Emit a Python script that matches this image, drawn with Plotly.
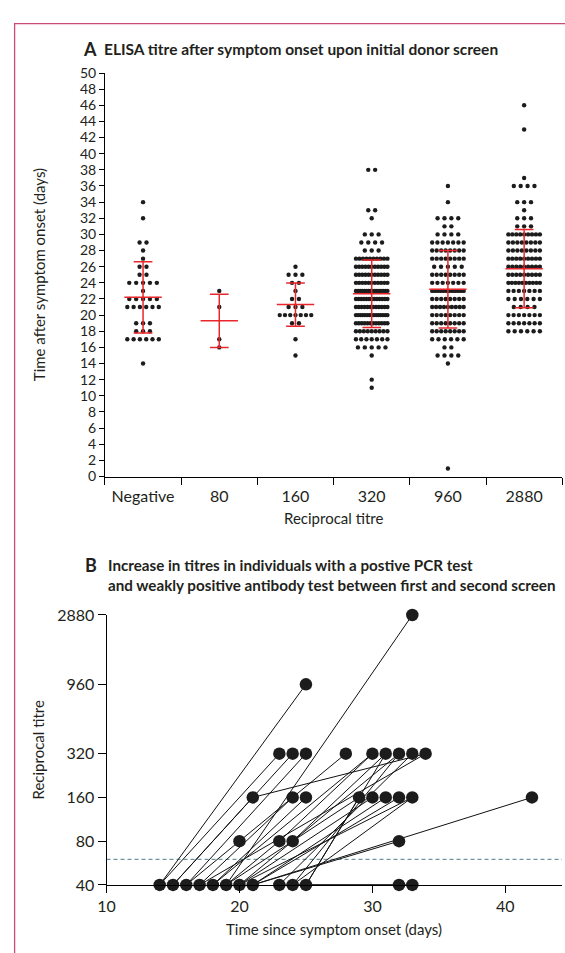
import numpy as np
import plotly.graph_objects as go

W, H = 565, 953


def px(x):
    return x / W


def py(y):
    return 1 - y / H


# ---------------- Panel A data (day after symptom onset, number of donors) ----------------
categories = ["Negative", "80", "160", "320", "960", "2880"]

neg_days = [34, 32, 29, 28, 27, 26, 25, 24, 23, 22, 21, 19, 18, 17, 14]
neg_counts = [1, 1, 2, 1, 1, 2, 2, 5, 1, 5, 6, 3, 3, 6, 1]

t80_days = [23, 21, 17, 16]
t80_counts = [1, 1, 1, 1]

t160_days = [26, 25, 24, 23, 22, 21, 20, 19, 17, 15]
t160_counts = [1, 3, 2, 1, 2, 3, 7, 2, 1, 1]

t320_days = [38, 33, 32, 30, 29, 28, 27, 26, 25, 24, 23, 22, 21, 20, 19, 18, 17, 16, 15, 12, 11]
t320_counts = [2, 2, 1, 3, 4, 3, 10, 11, 11, 11, 16, 13, 12, 15, 12, 9, 7, 5, 1, 1, 1]

t960_days = [36, 34, 32, 31, 30, 29, 28, 27, 26, 25, 24, 23, 22, 21, 20, 19, 18, 17, 16, 15, 14, 1]
t960_counts = [1, 1, 4, 2, 4, 7, 8, 8, 5, 8, 7, 12, 8, 9, 8, 8, 8, 6, 2, 4, 1, 1]

t2880_days = [46, 43, 37, 36, 34, 33, 32, 31, 30, 29, 28, 27, 26, 25, 24, 23, 22, 21, 20, 19, 18]
t2880_counts = [1, 1, 1, 4, 3, 1, 3, 3, 9, 8, 8, 9, 9, 9, 10, 7, 6, 4, 7, 7, 6]

means = [22.2, 19.3, 21.3, 22.65, 23.2, 25.75]
sds = [4.42, 3.3, 2.67, 4.17, 4.8, 4.85]

# ---------------- Panel B data (first screen -> second screen) ----------------
b_day1 = [14, 14, 15, 15, 16, 19, 16, 20, 21, 17, 18, 19, 20, 23, 24, 24, 19, 20, 21,
          21, 20, 23, 24, 25, 21, 21, 17, 18, 24, 25, 23, 24]
b_titre1 = [40, 40, 40, 40, 40, 40, 40, 80, 160, 40, 40, 40, 40, 80, 80, 80, 40, 40, 40,
            40, 40, 40, 40, 40, 40, 40, 40, 40, 40, 40, 40, 40]
b_day2 = [25, 23, 24, 21, 25, 33, 20, 28, 34, 24, 25, 23, 24, 30, 31, 32, 29, 30, 31,
          32, 33, 33, 32, 29, 32, 42, 34, 30, 33, 31, 32, 33]
b_titre2 = [960, 320, 320, 160, 320, 2880, 80, 320, 320, 160, 160, 80, 80, 320, 320, 320, 160, 160, 160,
            160, 160, 320, 320, 160, 80, 160, 320, 320, 160, 320, 40, 40]
b_yticks = [40, 80, 160, 320, 960, 2880]
b_xticks = [10, 20, 30, 40]
cutoff = 60

FONT = "Lato, 'Open Sans', sans-serif"
TXT = "#231f20"
RED = "#e8262b"
DOT = "#1c1c1c"

# plot-area geometry (pixels)
A_LEFT, A_RIGHT, A_TOP, A_BOTTOM = 97.5, 562.2, 64.3, 476.0
B_LEFT, B_RIGHT, B_TOP, B_BOTTOM = 99.1, 562.0, 617.3, 892.7
CAT_PX = (A_RIGHT - A_LEFT) / len(categories)
B_XMAX = 10 + (B_RIGHT - B_LEFT) / 13.51

fig = go.Figure()

# ---- Panel A: scatter dot plot ----
all_days = [neg_days, t80_days, t160_days, t320_days, t960_days, t2880_days]
all_counts = [neg_counts, t80_counts, t160_counts, t320_counts, t960_counts, t2880_counts]
STEP_PX, SPAN_PX = 7.0, 32.0
xs, ys = [], []
for ci, (days, counts) in enumerate(zip(all_days, all_counts)):
    for d, n in zip(days, counts):
        step = STEP_PX if n < 2 else min(STEP_PX, SPAN_PX / (n - 1))
        for i in range(n):
            xs.append(ci + (i - (n - 1) / 2) * step / CAT_PX)
            ys.append(d)
fig.add_trace(go.Scatter(x=xs, y=ys, mode="markers", xaxis="x", yaxis="y",
                         marker=dict(size=4.4, color=DOT, line=dict(width=0)),
                         hoverinfo="skip", showlegend=False, cliponaxis=False))

# mean +/- SD
MEAN_HW = 19.0 / CAT_PX
CAP_HW = 9.5 / CAT_PX
rx, ry = [], []
for ci, (m, s) in enumerate(zip(means, sds)):
    rx += [ci - MEAN_HW, ci + MEAN_HW, None]
    ry += [m, m, None]
    rx += [ci, ci, None]
    ry += [m - s, m + s, None]
    rx += [ci - CAP_HW, ci + CAP_HW, None, ci - CAP_HW, ci + CAP_HW, None]
    ry += [m + s, m + s, None, m - s, m - s, None]
fig.add_trace(go.Scatter(x=rx, y=ry, mode="lines", xaxis="x", yaxis="y",
                         line=dict(color=RED, width=1.5), hoverinfo="skip",
                         showlegend=False, cliponaxis=False))

# ---- Panel B ----
fig.add_trace(go.Scatter(x=[10, B_XMAX], y=[cutoff, cutoff], mode="lines", xaxis="x2", yaxis="y2",
                         line=dict(color="#4f7888", width=1, dash="4px,3px"),
                         hoverinfo="skip", showlegend=False))
lx, ly = [], []
for a, b, c, d in zip(b_day1, b_titre1, b_day2, b_titre2):
    lx += [a, c, None]
    ly += [b, d, None]
fig.add_trace(go.Scatter(x=lx, y=ly, mode="lines", xaxis="x2", yaxis="y2",
                         line=dict(color="#111111", width=1), hoverinfo="skip",
                         showlegend=False, cliponaxis=False))
pts = sorted(set(zip(b_day1, b_titre1)) | set(zip(b_day2, b_titre2)))
fig.add_trace(go.Scatter(x=[p[0] for p in pts], y=[p[1] for p in pts], mode="markers",
                         xaxis="x2", yaxis="y2",
                         marker=dict(size=12.5, color=DOT, line=dict(width=0)),
                         hoverinfo="skip", showlegend=False, cliponaxis=False))

axis_common = dict(showgrid=False, zeroline=False, showline=True, linecolor="black",
                   linewidth=1, tickcolor="black", tickwidth=1,
                   tickfont=dict(family=FONT, size=16, color=TXT), fixedrange=True)
small_tick = dict(axis_common, tickfont=dict(family=FONT, size=14, color=TXT))

fig.update_layout(
    width=W, height=H, margin=dict(l=0, r=0, t=0, b=0),
    paper_bgcolor="white", plot_bgcolor="white", showlegend=False,
    font=dict(family=FONT, color=TXT),
    xaxis=dict(domain=[px(A_LEFT), px(A_RIGHT)], range=[-0.5, 5.5], anchor="y",
               tickmode="array", tickvals=list(range(len(categories))), ticktext=categories,
               ticks="outside", ticklen=5, tickcolor="rgba(0,0,0,0)",
               minor=dict(tickmode="array", tickvals=[i - 0.5 for i in range(len(categories) + 1)],
                          ticks="outside", ticklen=7, tickcolor="black", tickwidth=1),
               **{k: v for k, v in axis_common.items() if k != "tickcolor"}),
    yaxis=dict(domain=[py(A_BOTTOM), py(A_TOP)], range=[0, 50], anchor="x",
               tickmode="linear", tick0=0, dtick=2, ticks="outside", ticklen=5,
               **small_tick),
    xaxis2=dict(domain=[px(B_LEFT), px(B_RIGHT)], range=[10, B_XMAX], anchor="y2",
                tickmode="array", tickvals=b_xticks, ticks="outside", ticklen=7,
                **axis_common),
    yaxis2=dict(domain=[py(B_BOTTOM), py(B_TOP)], type="log",
                range=[np.log10(40), np.log10(2880)], anchor="x2",
                tickmode="array", tickvals=b_yticks, ticktext=[str(v) for v in b_yticks],
                ticks="outside", ticklen=8, **axis_common),
)

ann = []


def add_text(text, x, y, size=14, xanchor="left", angle=0, bold=False):
    ann.append(dict(text=("<b>%s</b>" % text) if bold else text, x=px(x), y=py(y),
                    xref="paper", yref="paper", xanchor=xanchor, yanchor="middle",
                    showarrow=False, textangle=angle,
                    font=dict(family=FONT, size=size, color=TXT)))


add_text("A", 73.5, 39.5, size=18, bold=True)
add_text("ELISA titre after symptom onset upon initial donor screen", 95, 40, size=15.5, bold=True)
add_text("Time after symptom onset (days)", 30, 270, size=15, xanchor="center", angle=-90)
add_text("Reciprocal titre", (A_LEFT + A_RIGHT) / 2, 518, size=15, xanchor="center")
add_text("B", 75.5, 566, size=18, bold=True)
add_text("Increase in titres in individuals with a postive PCR test", 98.5, 566.5, size=15.2, bold=True)
add_text("and weakly positive antibody test between first and second screen", 98.5, 587, size=15.2, bold=True)
add_text("Reciprocal titre", 29, 755, size=15, xanchor="center", angle=-90)
add_text("Time since symptom onset (days)", (B_LEFT + B_RIGHT) / 2, 938, size=15, xanchor="center")
fig.update_layout(annotations=ann)

# page frame
fig.add_shape(type="rect", xref="paper", yref="paper", x0=px(5.7), x1=1.05, y0=-0.05, y1=py(14),
              line=dict(color="#cc4a78", width=1.3), fillcolor="rgba(0,0,0,0)", layer="above")

fig.write_html("out.html", config={"displayModeBar": False},
               post_script="document.body.style.margin='0';document.body.style.overflow='hidden';")
